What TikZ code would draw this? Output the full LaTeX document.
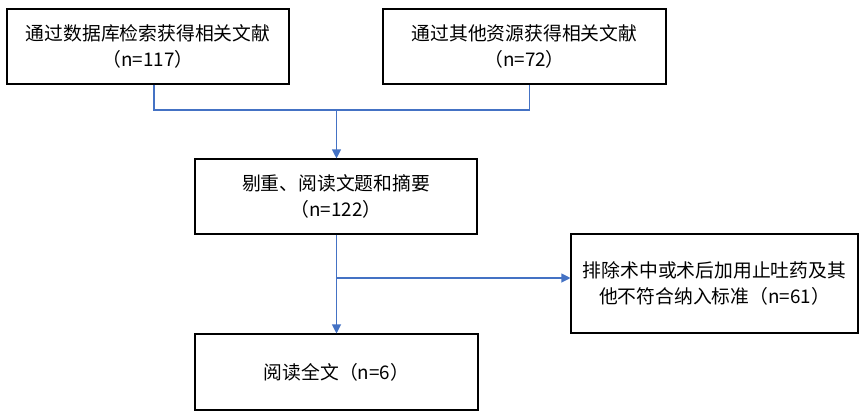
\documentclass[tikz,border=0pt]{standalone}
\usepackage{fontspec}
\setmainfont{Noto Sans CJK SC}
\usetikzlibrary{arrows.meta,calc}
\definecolor{linkblue}{HTML}{4472C4}

\begin{document}
\begin{tikzpicture}[x=1pt,y=-1pt,>=Latex,
 box/.style={draw=black,line width=1.1pt,fill=white,align=center,inner sep=0pt,font=\fontsize{18.8}{25.5}\selectfont},
 link/.style={line width=1.1pt,linkblue},
 a/.style={link,-{Triangle[length=9pt,width=9pt]}}]
\useasboundingbox (0,0) rectangle (859,418);

\node[box,minimum width=282pt,minimum height=75pt] (db) at (148,46.5) {通过数据库检索获得相关文献\\（n=117）};
\node[box,minimum width=283pt,minimum height=75pt] (other) at (524.5,46.5) {通过其他资源获得相关文献\\（n=72）};
\node[box,minimum width=282pt,minimum height=75pt] (screen) at (336,196.5) {剔重、阅读文题和摘要\\（n=122）};
\node[box,minimum width=287pt,minimum height=99pt] (excl) at (714.5,283.5) {排除术中或术后加用止吐药及其\\他不符合纳入标准（n=61）};
\node[box,minimum width=283pt,minimum height=76pt] (full) at (336.5,372) {阅读全文（n=6）};

% merge of the two sources
\coordinate (dbout) at ([xshift=6pt]db.south);
\coordinate (otherout) at ([xshift=5pt]other.south);
\coordinate (merge) at (336.5,110);
\draw[link] (dbout) -- (dbout |- merge) -- (otherout |- merge) -- (otherout);
\draw[a] (merge) -- (merge |- screen.north);

% screening
\coordinate (split) at (336.5,278);
\draw[a] (screen.south -| split) -- (split |- full.north);
\draw[a] (split) -- (split -| excl.west);
\end{tikzpicture}
\end{document}
